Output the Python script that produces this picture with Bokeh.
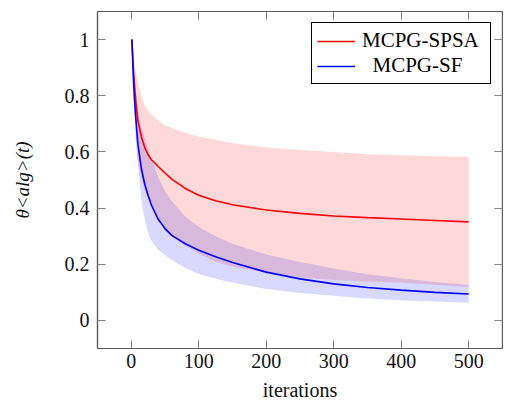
from bokeh.plotting import figure
from bokeh.models import Range1d, LinearAxis, FixedTicker, Legend, LegendItem
from bokeh.embed import file_html
from bokeh.resources import INLINE

iterations = [1, 3, 5, 8, 10, 15, 20, 25, 30, 40, 50, 60, 80, 100, 125, 150, 200, 250, 300, 350, 400, 450, 500]

spsa_mean = [1.0, 0.90, 0.83, 0.75, 0.71, 0.655, 0.615, 0.59, 0.572, 0.548, 0.525, 0.503, 0.47, 0.446, 0.426, 0.412, 0.393, 0.381, 0.372, 0.366, 0.361, 0.356, 0.351]
spsa_upper = [1.0, 0.95, 0.91, 0.87, 0.85, 0.80, 0.767, 0.748, 0.734, 0.712, 0.695, 0.685, 0.668, 0.655, 0.643, 0.632, 0.616, 0.607, 0.60, 0.592, 0.588, 0.585, 0.583]
spsa_lower = [1.0, 0.85, 0.75, 0.63, 0.57, 0.51, 0.463, 0.435, 0.405, 0.355, 0.322, 0.298, 0.268, 0.237, 0.209, 0.192, 0.17, 0.155, 0.144, 0.139, 0.134, 0.127, 0.119]

sf_mean = [1.0, 0.87, 0.78, 0.68, 0.625, 0.54, 0.485, 0.445, 0.41, 0.36, 0.327, 0.303, 0.273, 0.25, 0.227, 0.206, 0.172, 0.148, 0.13, 0.117, 0.108, 0.1, 0.094]
sf_upper = [1.0, 0.93, 0.86, 0.78, 0.745, 0.69, 0.65, 0.61, 0.575, 0.51, 0.46, 0.425, 0.37, 0.333, 0.3, 0.273, 0.235, 0.208, 0.185, 0.164, 0.15, 0.137, 0.126]
sf_lower = [1.0, 0.82, 0.72, 0.6, 0.55, 0.43, 0.36, 0.31, 0.282, 0.252, 0.232, 0.215, 0.187, 0.165, 0.148, 0.134, 0.112, 0.098, 0.088, 0.078, 0.072, 0.067, 0.063]

x_ticks = [0, 100, 200, 300, 400, 500]
y_ticks = [0, 0.2, 0.4, 0.6, 0.8, 1]
y_tick_labels = ["0", "0.2", "0.4", "0.6", "0.8", "1"]

FONT = "Liberation Serif"
AXC = "#5a5a5a"

p = figure(width=503, height=403, x_range=Range1d(-50, 550), y_range=Range1d(-0.1, 1.1),
           output_backend="svg", toolbar_location=None,
           min_border_left=97, min_border_right=1, min_border_top=11, min_border_bottom=53)
p.grid.visible = False
p.outline_line_color = AXC
p.outline_line_width = 1.2
p.background_fill_color = "white"
p.border_fill_color = "white"

p.varea(x=iterations, y1=spsa_lower, y2=spsa_upper, fill_color="#ff0000", fill_alpha=0.15)
p.varea(x=iterations, y1=sf_lower, y2=sf_upper, fill_color="#0000ff", fill_alpha=0.15)
r_red = p.line(iterations, spsa_mean, line_color="#ff0000", line_width=1.6)
r_blue = p.line(iterations, sf_mean, line_color="#0000ff", line_width=1.6)

def style(ax, ticks):
    ax.ticker = FixedTicker(ticks=ticks)
    ax.major_tick_in = 8
    ax.major_tick_out = 0
    ax.minor_tick_in = 0
    ax.minor_tick_out = 0
    ax.major_tick_line_color = "#808080"
    ax.major_tick_line_width = 1
    ax.axis_line_color = AXC
    ax.axis_line_width = 1.2
    ax.major_label_text_font = FONT
    ax.major_label_text_font_size = "20px"
    ax.major_label_text_color = "#111111"
    ax.axis_label_text_font = FONT
    ax.axis_label_text_font_size = "20px"
    ax.axis_label_text_font_style = "normal"
    ax.axis_label_text_color = "#111111"

style(p.xaxis[0], x_ticks)
p.xaxis[0].major_label_standoff = 5
p.xaxis[0].axis_label = "iterations"
p.xaxis[0].axis_label_standoff = 8

style(p.yaxis[0], y_ticks)
p.yaxis[0].major_label_overrides = {t: s for t, s in zip(y_ticks, y_tick_labels)}
p.yaxis[0].major_label_standoff = 8
p.yaxis[0].axis_label = "θ<alg>(t)"
p.yaxis[0].axis_label_text_font_style = "italic"
p.yaxis[0].axis_label_text_font_size = "19px"
p.yaxis[0].axis_label_standoff = 29

top = LinearAxis()
style(top, x_ticks)
top.major_label_overrides = {t: "" for t in x_ticks}
top.major_label_text_font_size = "1px"
top.major_label_standoff = 0
p.add_layout(top, "above")

right = LinearAxis()
style(right, y_ticks)
right.major_label_overrides = {t: "" for t in y_ticks}
right.major_label_text_font_size = "1px"
right.major_label_standoff = 0
p.add_layout(right, "right")

legend = Legend(items=[LegendItem(label="MCPG-SPSA", renderers=[r_red]),
                       LegendItem(label="\u00a0\u00a0MCPG-SF", renderers=[r_blue])],
                location="top_right")
legend.border_line_color = "black"
legend.border_line_width = 1
legend.border_line_alpha = 1
legend.background_fill_alpha = 1
legend.label_text_font = FONT
legend.label_text_font_size = "21px"
legend.label_text_color = "black"
legend.glyph_width = 38
legend.glyph_height = 22
legend.label_height = 22
legend.label_width = 123
legend.label_standoff = 7
legend.padding = 5
legend.spacing = 0
legend.margin = 11
p.add_layout(legend)

open("out.html", "w").write(file_html(p, INLINE))
